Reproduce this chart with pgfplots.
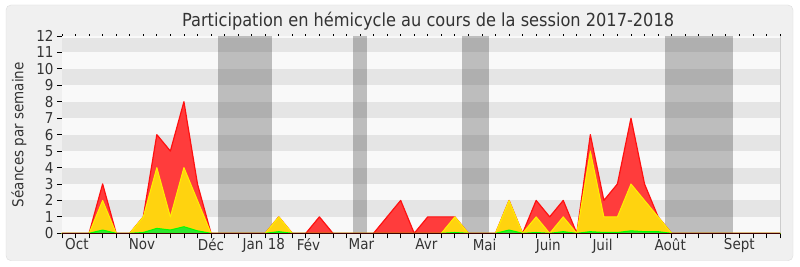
\documentclass[border=0pt]{standalone}
\usepackage{pgfplots}
\pgfplotsset{compat=1.18}
\usepackage{fontspec}
\setmainfont{DejaVu Sans Condensed}
\definecolor{txt}{HTML}{333333}
\definecolor{bandA}{HTML}{E5E5E5}
\definecolor{bandB}{HTML}{F9F9F9}
\definecolor{outerbg}{HTML}{F0F0F0}
\definecolor{outerline}{HTML}{DDDDDD}
\definecolor{redfill}{HTML}{FF3C3C}
\definecolor{redline}{HTML}{FF1010}
\definecolor{yelfill}{HTML}{FFD30F}
\definecolor{yelline}{HTML}{FFF000}
\definecolor{grnfill}{HTML}{30E630}
\definecolor{grnline}{HTML}{00FF00}
\begin{document}
\begin{tikzpicture}
\useasboundingbox (0bp,0bp) rectangle (800bp,267bp);
\fill[white] (0bp,0bp) rectangle (800bp,267bp);
\filldraw[fill=outerbg, draw=outerline, rounded corners=5bp] (6bp,6.3bp) rectangle (793bp,262bp);
\begin{axis}[
  at={(62bp,33.7bp)}, anchor=south west,
  scale only axis, width=718bp, height=197.3bp,
  xmin=0, xmax=53, ymin=0, ymax=12,
  axis lines=left, axis line style={-, draw=black},
  tick align=outside, major tick length=5bp,
  tick style={black, line width=0.8bp},
  xtick={0,...,53}, xticklabels={},
  extra x ticks={1.1,5.9,11,14.9,18.2,22.1,26.9,31.2,35.9,39.9,44.9,50},
  extra x tick labels={Oct,Nov,Déc,Jan 18,Fév,Mar,Avr,Mai,Juin,Juil,Août,Sept},
  extra x tick style={major tick length=0pt, xticklabel style={yshift=-2bp}},
  ytick={0,...,12},
  /pgf/number format/assume math mode=true,
  tick label style={font=\fontsize{15bp}{17bp}\selectfont, text=txt},
  ylabel={Séances par semaine},
  every axis y label/.style={at={(axis description cs:-0.0599,0.5)}, rotate=90, anchor=center, font=\fontsize{15bp}{18bp}\selectfont, text=txt},
  clip=false,
]
\fill[bandB] (axis cs:0,0) rectangle (axis cs:53,12);
\fill[bandA] (axis cs:0,1) rectangle (axis cs:53,2);
\fill[bandA] (axis cs:0,3) rectangle (axis cs:53,4);
\fill[bandA] (axis cs:0,5) rectangle (axis cs:53,6);
\fill[bandA] (axis cs:0,7) rectangle (axis cs:53,8);
\fill[bandA] (axis cs:0,9) rectangle (axis cs:53,10);
\fill[bandA] (axis cs:0,11) rectangle (axis cs:53,11.9);
\fill[black!80, fill opacity=0.3] (axis cs:11.5,0) rectangle (axis cs:15.5,12);
\fill[black!80, fill opacity=0.3] (axis cs:21.5,0) rectangle (axis cs:22.5,12);
\fill[black!80, fill opacity=0.3] (axis cs:29.5,0) rectangle (axis cs:31.5,12);
\fill[black!80, fill opacity=0.3] (axis cs:44.5,0) rectangle (axis cs:49.5,12);
\draw[black!20] (axis cs:53,0) -- (axis cs:53,12);
% total
\addplot[draw=redline, fill=redfill, line width=1.2bp, line join=round] coordinates {
(0,0)(1,0)(2,0)(3,3)(4,0)(5,0)(6,1)(7,6)(8,5)(9,8)(10,3)(11,0)(12,0)(13,0)(14,0)(15,0)(16,1)(17,0)(18,0)(19,1)(20,0)(21,0)(22,0)(23,0)(24,1)(25,2)(26,0)(27,1)(28,1)(29,1)(30,0)(31,0)(32,0)(33,2)(34,0)(35,2)(36,1)(37,2)(38,0)(39,6)(40,2)(41,3)(42,7)(43,3)(44,1)(45,0)(46,0)(47,0)(48,0)(49,0)(50,0)(51,0)(52,0)(53,0)
} \closedcycle;
% second
\addplot[draw=yelline, fill=yelfill, line width=1bp, line join=round] coordinates {
(0,0)(1,0)(2,0)(3,2)(4,0)(5,0)(6,1)(7,4)(8,1)(9,4)(10,2)(11,0)(12,0)(13,0)(14,0)(15,0)(16,1)(17,0)(18,0)(19,0)(20,0)(21,0)(22,0)(23,0)(24,0)(25,0)(26,0)(27,0)(28,0)(29,1)(30,0)(31,0)(32,0)(33,2)(34,0)(35,1)(36,0)(37,1)(38,0)(39,5)(40,1)(41,1)(42,3)(43,2)(44,1)(45,0)(46,0)(47,0)(48,0)(49,0)(50,0)(51,0)(52,0)(53,0)
} \closedcycle;
% third
\addplot[draw=grnline, fill=grnfill, line width=1bp, line join=round] coordinates {
(0,0)(1,0)(2,0)(3,0.2)(4,0)(5,0)(6,0.05)(7,0.3)(8,0.2)(9,0.4)(10,0.15)(11,0)(12,0)(13,0)(14,0)(15,0)(16,0.1)(17,0)(18,0)(19,0)(20,0)(21,0)(22,0)(23,0)(24,0)(25,0)(26,0)(27,0)(28,0)(29,0.05)(30,0)(31,0)(32,0)(33,0.2)(34,0)(35,0.05)(36,0)(37,0.1)(38,0)(39,0.1)(40,0.05)(41,0.05)(42,0.15)(43,0.1)(44,0.1)(45,0)(46,0)(47,0)(48,0)(49,0)(50,0)(51,0)(52,0)(53,0)
} \closedcycle;
\draw[black!70!red!80!black, line width=1bp] (axis cs:0,0) -- (axis cs:53,0);
\node[font=\fontsize{18bp}{21bp}\selectfont, text=txt, anchor=base] at (axis description cs:0.51,1) [yshift=9bp] {Participation en hémicycle au cours de la session 2017-2018};
\end{axis}
\begin{axis}[
  at={(62bp,33.7bp)}, anchor=south west,
  scale only axis, width=718bp, height=197.3bp,
  xmin=0, xmax=53, ymin=0, ymax=12,
  hide y axis, axis x line*=top, axis line style={draw=none},
  xtick={0,...,53}, xticklabels={},
  tick align=outside, major tick length=1.5bp, tick style={black, line width=0.8bp},
]
\addplot[draw=none] coordinates {(0,0)};
\end{axis}
\end{tikzpicture}
\end{document}
